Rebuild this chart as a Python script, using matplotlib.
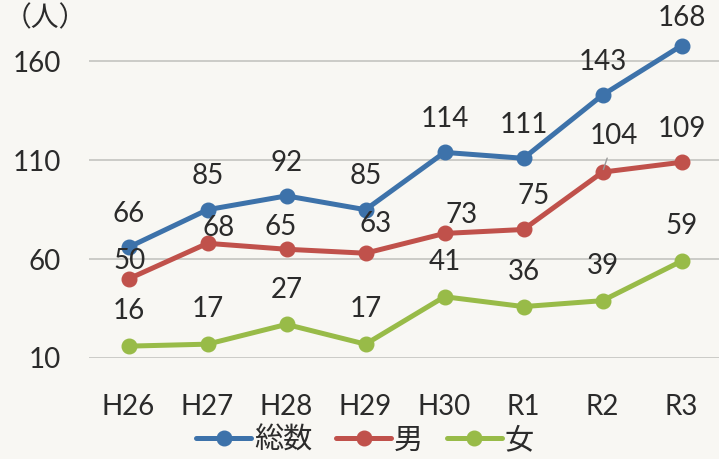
import matplotlib.pyplot as plt

# ============================================================
# Données
# ============================================================
annees = ["H26", "H27", "H28", "H29", "H30", "R1", "R2", "R3"]
total = [66, 85, 92, 85, 114, 111, 143, 168]
hommes = [50, 68, 65, 63, 73, 75, 104, 109]
femmes = [16, 17, 27, 17, 41, 36, 39, 59]
yticks = [10, 60, 110, 160]

# décalage des étiquettes (points), réglé à la main comme dans l'original
off_total = [(0, 24)] * 7 + [(0, 20)]
off_hommes = [(1, 13), (8, 11), (-4, 16), (7, 21), (12, 13), (7, 24), (8, 26), (0, 24)]
off_femmes = [(0, 25)] * 8

plt.rcParams['font.family'] = ['Lato', 'Noto Sans CJK JP']
couleur_txt = "#2b2b2b"

fig = plt.figure(figsize=(7.19, 4.59), dpi=100)
fig.patch.set_facecolor("#f8f7f3")
ax = fig.add_axes([89 / 719, 101 / 459, 632 / 719, 346 / 459])
ax.set_facecolor("#f8f7f3")

x = range(len(annees))
series = [
    (total, "#3d72aa", "総数", off_total),
    (hommes, "#c0514b", "男", off_hommes),
    (femmes, "#98bb48", "女", off_femmes),
]
for vals, col, nom, offs in series:
    ax.plot(x, vals, color=col, lw=3.6, marker="o", ms=10.5, label=nom,
            solid_capstyle="round", clip_on=False, zorder=3)
    for i, v in enumerate(vals):
        ax.annotate(str(v), (i, v), xytext=offs[i], textcoords="offset points",
                    ha="center", va="center", fontsize=20, color=couleur_txt,
                    annotation_clip=False, zorder=4)

# petit trait de rappel pour 104
ax.annotate("", (6, hommes[6]), xytext=(4, 12), textcoords="offset points",
            arrowprops=dict(arrowstyle="-", color="#999999", lw=1))

ax.set_xlim(-0.5, 7.5)
ax.set_ylim(10, 185)
ax.set_yticks(yticks)
ax.set_xticks(list(x))
ax.set_xticklabels(annees)
ax.grid(axis="y", color="#c4c4c0", lw=1.2)
ax.set_axisbelow(True)
for s in ax.spines.values():
    s.set_visible(False)
ax.tick_params(length=0, labelsize=20, colors=couleur_txt)
ax.tick_params(axis="y", pad=20)
ax.tick_params(axis="x", pad=26)

fig.text(45 / 719, 1 - 18 / 459, "（人）", ha="center", va="center",
         fontsize=20, color=couleur_txt)

leg = fig.legend(loc="center", bbox_to_anchor=(365 / 719, 1 - 440 / 459), ncol=3,
                 frameon=False, fontsize=21, handlelength=1.9, handletextpad=0.1,
                 columnspacing=0.8)
for t in leg.get_texts():
    t.set_color(couleur_txt)

fig.savefig("out.png", dpi=100, facecolor=fig.get_facecolor())
